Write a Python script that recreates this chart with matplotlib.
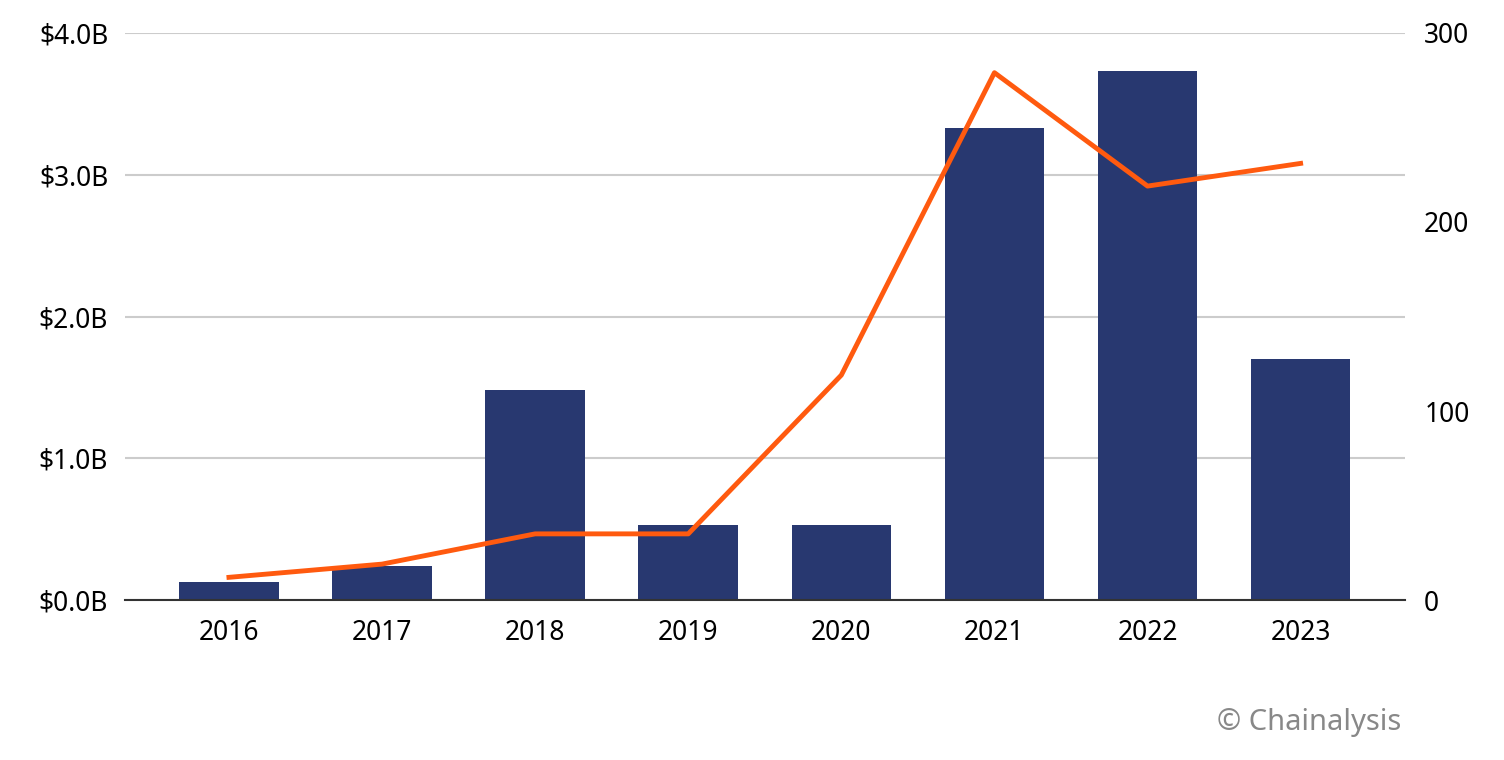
import matplotlib
matplotlib.use("Agg")
import matplotlib.pyplot as plt

years = ["2016", "2017", "2018", "2019", "2020", "2021", "2022", "2023"]
value_b = [0.13, 0.24, 1.48, 0.53, 0.53, 3.33, 3.73, 1.70]
count = [12, 19, 35, 35, 119, 279, 219, 231]
left_ticks = [0, 1, 2, 3, 4]
right_ticks = [0, 100, 200, 300]

plt.rcParams['font.family'] = ['Noto Sans', 'DejaVu Sans']
fig = plt.figure(figsize=(15.04, 7.6), dpi=100)
ax = fig.add_axes([0.083, 0.2105, 0.851, 0.7461])
x = range(len(years))
ax.bar(x, value_b, width=0.65, color="#283870", zorder=2)
ax.set_ylim(0, 4)
ax.set_xlim(-0.68, 7.68)
ax.set_yticks(left_ticks)
ax.set_yticklabels([f"${v:.1f}B" for v in left_ticks])
ax.set_xticks(list(x))
ax.set_xticklabels(years)
ax.grid(axis="y", color="#cccccc", linewidth=1.5, zorder=0)
for s in ["top", "right", "left"]:
    ax.spines[s].set_visible(False)
ax.spines["bottom"].set_color("#333333")
ax.spines["bottom"].set_linewidth(1.5)
ax.tick_params(length=0, labelsize=19, pad=14)
ax.tick_params(axis="y", pad=12)

ax2 = ax.twinx()
ax2.plot(list(x), count, color="#ff5a0f", linewidth=3.5, zorder=3)
ax2.set_ylim(0, 300)
ax2.set_yticks(right_ticks)
for s in ["top", "right", "left", "bottom"]:
    ax2.spines[s].set_visible(False)
ax2.tick_params(length=0, labelsize=19, pad=14)

fig.text(0.932, 0.03, "© Chainalysis", ha="right", va="bottom", fontsize=21, color="#888888")
fig.savefig("out.png", dpi=100)
